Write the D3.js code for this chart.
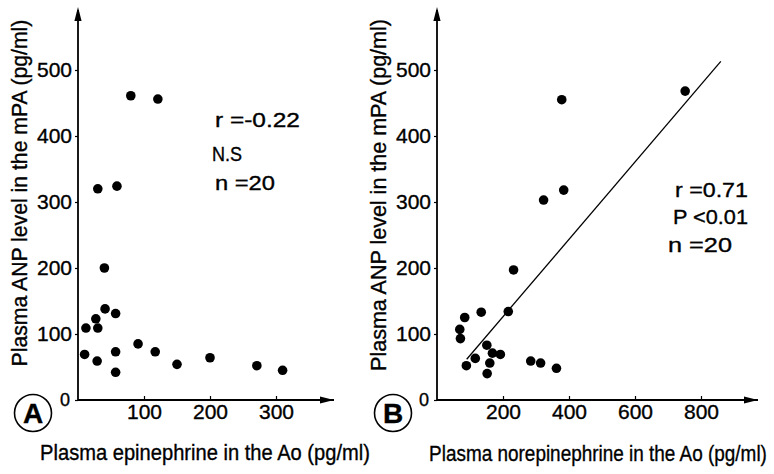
<!DOCTYPE html>
<html>
<head>
<meta charset="utf-8">
<script src="https://cdn.jsdelivr.net/npm/d3@7"></script>
<style>
  html, body { margin: 0; padding: 0; background: #fff; }
  svg { display: block; }
  text { font-family: "Liberation Sans", Arial, Helvetica, sans-serif; fill: #000; stroke: #000; stroke-width: 0.35px; }
</style>
</head>
<body>
<svg id="chart" width="774" height="474"></svg>
<script>
// Panel A: plasma epinephrine (Ao) vs ANP (mPA)
const epinephrine = [10, 12, 27, 30, 29, 30, 41, 40, 59, 57, 57, 57, 80, 121, 91, 117, 150, 200, 271, 310];
const anpA        = [69, 109, 123, 109, 59, 320, 138, 200, 324, 131, 73, 42, 461, 456, 85, 73, 54, 64, 52, 45];

// Panel B: plasma norepinephrine (Ao) vs ANP (mPA)
const norepinephrine = [69, 71, 84, 89, 116, 134, 151, 152, 160, 168, 192, 216, 232, 284, 314, 362, 323, 384, 378, 752];
const anpB           = [107, 93, 125, 52, 63, 133, 83, 40, 56, 71, 69, 134, 197, 59, 56, 48, 303, 318, 455, 468];

// Regression line for panel B
const fitSlope = 0.586;
const fitIntercept = 9;
const fitRange = [90, 860];

// Tick values
const anpTicks = [0, 100, 200, 300, 400, 500];
const epiTicks = [100, 200, 300];
const norTicks = [200, 400, 600, 800];

// Statistics text
const statsA = ["r =-0.22", "N.S", "n =20"];
const statsB = ["r =0.71", "P <0.01", "n =20"];

const svg = d3.select("#chart");

function arrowHead(g, x, y, dir) {
  const L = 14, W = 3.6;
  const p = dir === "up"
    ? [[x, y], [x - W, y + L], [x + W, y + L]]
    : [[x, y], [x - L, y - W], [x - L, y + W]];
  g.append("path").attr("d", "M" + p.map(d => d.join(",")).join("L") + "Z").attr("fill", "#000");
}

// Text squeezed horizontally to a given width (condensed typeface look)
function fitText(g, str, x, y, size, width, anchor, rotate) {
  const t = g.append("text").attr("font-size", size).attr("text-anchor", anchor || "start").text(str);
  const natural = t.node().getComputedTextLength();
  const k = width / natural;
  t.attr("transform", `translate(${x},${y})` + (rotate ? ` rotate(${rotate})` : "") + ` scale(${k},1)`);
  return t;
}

function panel(cfg) {
  const g = svg.append("g");
  const x = d3.scaleLinear().domain(cfg.xDomain).range(cfg.xRange);
  const y = d3.scaleLinear().domain([0, 500]).range([400, 70]);

  // axes lines with arrows
  g.append("line").attr("x1", x(0)).attr("x2", cfg.xEnd).attr("y1", y(0)).attr("y2", y(0))
    .attr("stroke", "#000").attr("stroke-width", 1.8);
  g.append("line").attr("x1", x(0)).attr("x2", x(0)).attr("y1", y(0)).attr("y2", 10)
    .attr("stroke", "#000").attr("stroke-width", 1.8);
  arrowHead(g, cfg.xEnd, y(0), "right");
  arrowHead(g, x(0), 7, "up");

  // y axis
  const ya = g.append("g").attr("transform", `translate(${x(0)},0)`)
    .call(d3.axisLeft(y).tickValues(anpTicks).tickSize(3).tickPadding(3).tickFormat(d3.format("d")));
  ya.select(".domain").remove();
  ya.selectAll(".tick line").attr("stroke-width", 1.2);
  ya.selectAll(".tick text").attr("font-size", d => d === 0 ? 18 : 21)
    .attr("font-family", '"Liberation Sans", Arial, sans-serif')
    .attr("dx", d => d === 0 ? -2 : 0);

  // x axis, ticks pointing inward
  const xa = g.append("g").attr("transform", `translate(0,${y(0)})`)
    .call(d3.axisBottom(x).tickValues(cfg.xTicks).tickSize(-4).tickPadding(4).tickFormat(d3.format("d")));
  xa.select(".domain").remove();
  xa.selectAll(".tick line").attr("stroke-width", 1.2);
  xa.selectAll(".tick text").attr("font-size", 21)
    .attr("font-family", '"Liberation Sans", Arial, sans-serif');

  // fit line
  if (cfg.fit) {
    g.append("line")
      .attr("x1", x(fitRange[0])).attr("y1", y(fitSlope * fitRange[0] + fitIntercept))
      .attr("x2", x(fitRange[1])).attr("y2", y(fitSlope * fitRange[1] + fitIntercept))
      .attr("stroke", "#000").attr("stroke-width", 1.3);
  }

  // points
  g.selectAll("circle.pt").data(cfg.xs.map((v, i) => [v, cfg.ys[i]])).join("circle")
    .attr("class", "pt").attr("cx", d => x(d[0])).attr("cy", d => y(d[1])).attr("r", 4.8)
    .attr("fill", "#000");

  // stats
  cfg.stats.forEach((s, i) => {
    fitText(g, s, cfg.statPos[i][0], cfg.statPos[i][1], 20, cfg.statLen[i]);
  });

  // axis titles
  fitText(g, "Plasma ANP level in the mPA  (pg/ml)", cfg.yTitle[0], cfg.yTitle[1], 22, cfg.yTitle[2], "middle", -90);
  fitText(g, cfg.xLabel, cfg.xTitle[0], cfg.xTitle[1], 22, cfg.xTitle[2], "middle");

  // circled panel letter
  g.append("circle").attr("cx", cfg.letter[0]).attr("cy", cfg.letter[1]).attr("r", 18.5)
    .attr("fill", "none").attr("stroke", "#000").attr("stroke-width", 1.6);
  g.append("text").attr("x", cfg.letter[0]).attr("y", cfg.letter[1] + 10)
    .attr("text-anchor", "middle").attr("font-size", 28).attr("font-weight", "bold")
    .text(cfg.letter[2]);
}

panel({
  xDomain: [0, 300], xRange: [78, 276], xEnd: 334, xTicks: epiTicks,
  xs: epinephrine, ys: anpA, fit: false,
  stats: statsA, statPos: [[215, 127], [212, 161], [215, 190]], statLen: [85, 30, 60],
  yTitle: [27, 193, 347], xTitle: [205, 460, 330],
  xLabel: "Plasma epinephrine in the Ao  (pg/ml)",
  letter: [33, 413, "A"]
});

panel({
  xDomain: [0, 800], xRange: [437, 701], xEnd: 758, xTicks: norTicks,
  xs: norepinephrine, ys: anpB, fit: true,
  stats: statsB, statPos: [[675, 197], [673, 224], [668, 252]], statLen: [73, 75, 64],
  yTitle: [386, 195, 352], xTitle: [598, 461, 338],
  xLabel: "Plasma norepinephrine in the Ao  (pg/ml)",
  letter: [393, 413, "B"]
});
</script>
</body>
</html>
